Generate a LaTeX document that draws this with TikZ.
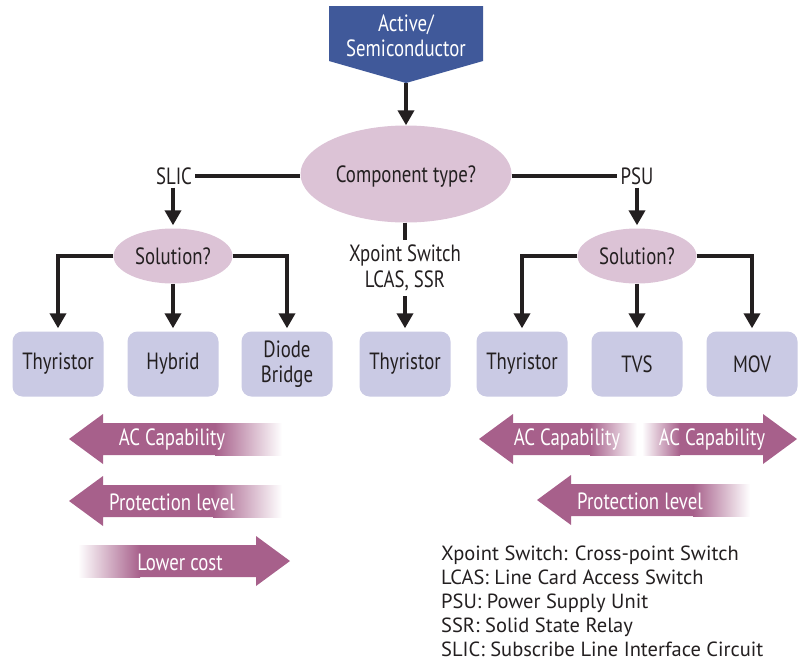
\documentclass[tikz,border=0pt]{standalone}
\usepackage{fontspec}
\setmainfont{PT Sans}
\newfontfamily\condfont[FakeStretch=0.8]{PT Sans}
\usetikzlibrary{arrows.meta,positioning,shapes.geometric}
\definecolor{cTop}{HTML}{40599A}
\definecolor{cEll}{HTML}{DCC3D6}
\definecolor{cBox}{HTML}{CACAE4}
\definecolor{cCap}{HTML}{A7608B}
\definecolor{cDark}{HTML}{231F20}
\tikzset{
  tx/.style   = {font=\condfont\fontsize{23.5}{25.5}\selectfont, text=cDark, align=center},
  box/.style  = {tx, fill=cBox, rounded corners=10pt, minimum width=91pt,
                 minimum height=65pt, inner sep=0pt},
  ell/.style  = {tx, ellipse, fill=cEll, inner sep=0pt},
  ln/.style   = {draw=cDark, line width=4.8pt},
  ar/.style   = {ln, -{Triangle[length=15pt,width=16pt]}, shorten >=3pt},
  lbl/.style  = {tx, inner sep=3pt},
  captxt/.style = {tx, text=white},
}

\begin{document}
\begin{tikzpicture}[x=1pt, y=-1pt]
  \useasboundingbox (0,0) rectangle (798,667);
  % top block
  \fill[cTop] (329,6) -- (483,6) -- (483,61) -- (406,83) -- (329,61) -- cycle;
  \node[captxt] (top) at (406,36) {Active/\\Semiconductor};
  \coordinate (topTip) at (406,83);
  \node[ell, text depth=0pt, minimum width=211pt, minimum height=97pt] (comp) at (406,174) {Component type?};
  \draw[ar, shorten >=0pt] (topTip) -- (comp.north);
  % branch labels
  \node[lbl] (slic) at (174,176) {SLIC};
  \node[lbl] (psu) at (637,176) {PSU};
  \node[lbl, inner sep=5pt] (xp) at (405,268) {Xpoint Switch\\LCAS, SSR};
  \draw[ln] (comp.west |- slic.east) -- (slic.east);
  \draw[ln] (comp.east |- psu.west) -- (psu.west);
  \draw[ln] (comp.south -| xp.north) -- (xp.north);
  % solution nodes
  \node[ell, minimum width=119pt, minimum height=55pt] (solL) at (173,256) {Solution?};
  \node[ell, minimum width=119pt, minimum height=55pt] (solR) at (637,256) {Solution?};
  \draw[ar] (slic.south -| solL.north) -- (solL.north);
  \draw[ar] (psu.south) -- (solR.north);
  % boxes
  \node[box] (thyL) at (58,364) {Thyristor};
  \node[box] (hyb) at (173,364) {Hybrid};
  \node[box] (dio) at (287,364) {Diode\\Bridge};
  \node[box] (thyM) at (405,364) {Thyristor};
  \node[box] (thyR) at (522,364) {Thyristor};
  \node[box] (tvs) at (637,364) {TVS};
  \node[box] (mov) at (752,364) {MOV};
  \draw[ar] (solL.west) -| (thyL.north);
  \draw[ar] (solL.south) -- (hyb.north);
  \draw[ar] (solL.east) -| (dio.north);
  \draw[ar] (xp.south) -- (thyM.north);
  \draw[ar] (solR.west) -| (thyR.north);
  \draw[ar] (solR.south) -- (tvs.north);
  \draw[ar] (solR.east) -| (mov.north);
  % fat arrows pointing left: tip x / y / fade start / end
  \foreach \tx/\yy/\fs/\fe in {69/439/215/282, 69/501/213/282, 479/439/590/637, 537/500/693/750}{
    \fill[cCap] (\tx,\yy) -- ({\tx+34},{\yy-25}) -- ({\tx+34},{\yy-16}) -- ({\fs+1},{\yy-16})
      -- ({\fs+1},{\yy+16}) -- ({\tx+34},{\yy+16}) -- ({\tx+34},{\yy+25}) -- cycle;
    \shade[left color=cCap, right color=white] (\fs,{\yy-16}) rectangle (\fe,{\yy+16});
  }
  % fat arrows pointing right
  \foreach \tx/\yy/\fs/\fe in {290/561/140/78, 797/439/680/642}{
    \fill[cCap] (\tx,\yy) -- ({\tx-34},{\yy-25}) -- ({\tx-34},{\yy-16}) -- ({\fs-1},{\yy-16})
      -- ({\fs-1},{\yy+16}) -- ({\tx-34},{\yy+16}) -- ({\tx-34},{\yy+25}) -- cycle;
    \shade[left color=white, right color=cCap] (\fe,{\yy-16}) rectangle (\fs,{\yy+16});
  }
  \node[captxt] (acL) at (172,440) {AC Capability};
  \node[captxt] (protL) at (172,502) {Protection level};
  \node[captxt] (cost) at (180,562) {Lower cost};
  \node[captxt] (acR1) at (567,440) {AC Capability};
  \node[captxt] (acR2) at (712,440) {AC Capability};
  \node[captxt] (protR) at (640,501) {Protection level};
  % legend
  \node[anchor=north west, align=left, inner sep=0pt, text=cDark,
        font=\fontsize{20.5}{24}\selectfont] (legend) at (441,546)
    {Xpoint Switch: Cross-point Switch\\LCAS: Line Card Access Switch\\PSU: Power Supply Unit\\
     SSR: Solid State Relay\\SLIC: Subscribe Line Interface Circuit};
\end{tikzpicture}
\end{document}
